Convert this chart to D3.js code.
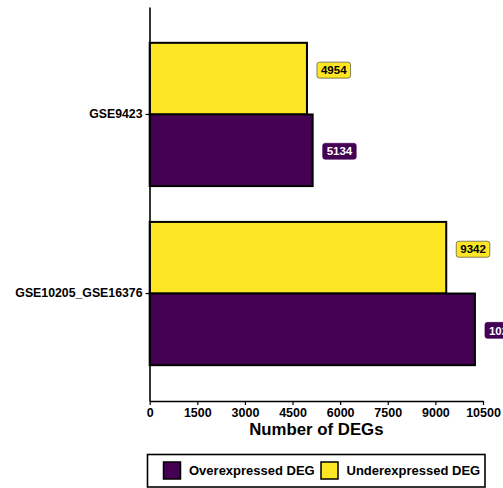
<!DOCTYPE html>
<html>
<head>
<meta charset="utf-8">
<script src="https://cdn.jsdelivr.net/npm/d3@7"></script>
<style>
  html, body { margin: 0; padding: 0; background: #fff; }
  svg { display: block; font-family: "Liberation Sans", Arial, sans-serif; }
</style>
</head>
<body>
<svg id="chart" width="503" height="488"></svg>
<script>
// Datasets (top to bottom) and DEG counts per direction
const datasets = ["GSE9423", "GSE10205_GSE16376"];
const series = ["Underexpressed DEG", "Overexpressed DEG"];
const legendOrder = ["Overexpressed DEG", "Underexpressed DEG"];
const overexpressed = [5134, 10246];
const underexpressed = [4954, 9342];
const xTicks = [0, 1500, 3000, 4500, 6000, 7500, 9000, 10500];

const colors = { "Overexpressed DEG": "#440154", "Underexpressed DEG": "#FDE725" };
const textColors = { "Overexpressed DEG": "#ffffff", "Underexpressed DEG": "#000000" };
const labelShift = { "Overexpressed DEG": 1, "Underexpressed DEG": -8.5 };

const rows = [];
datasets.forEach((d, i) => {
  rows.push({ dataset: d, series: "Underexpressed DEG", value: underexpressed[i] });
  rows.push({ dataset: d, series: "Overexpressed DEG", value: overexpressed[i] });
});

const svg = d3.select("#chart");
const panel = { left: 149.7, right: 483, top: 7, bottom: 401 };

const x = d3.scaleLinear().domain([0, 10500]).range([panel.left, panel.right]);
const y = d3.scaleBand().domain(datasets).range([panel.top, panel.bottom])
  .paddingInner(0.2).paddingOuter(0.2);
const ySub = d3.scaleBand().domain(series).range([0, y.bandwidth()]);

// Bars
svg.append("g").selectAll("rect").data(rows).join("rect")
  .attr("x", x(0))
  .attr("y", d => y(d.dataset) + ySub(d.series))
  .attr("width", d => x(d.value) - x(0))
  .attr("height", ySub.bandwidth())
  .attr("fill", d => colors[d.series])
  .attr("stroke", "#000")
  .attr("stroke-width", 2);

// Value labels
const fmt = d3.format("d");
const labels = svg.append("g").selectAll("g").data(rows).join("g")
  .attr("transform", d => `translate(${x(d.value) + 10},${y(d.dataset) + ySub(d.series) + ySub.bandwidth() / 2 + labelShift[d.series]})`);
labels.append("text")
  .attr("x", 4)
  .attr("dy", "0.36em")
  .attr("font-size", 11.5)
  .attr("font-weight", "bold")
  .attr("fill", d => textColors[d.series])
  .text(d => fmt(d.value));
labels.each(function (d) {
  const g = d3.select(this);
  const w = g.select("text").node().getComputedTextLength();
  g.insert("rect", "text")
    .attr("x", 0).attr("y", -8)
    .attr("width", w + 8).attr("height", 16)
    .attr("rx", 2.5).attr("ry", 2.5)
    .attr("fill", colors[d.series])
    .attr("stroke", d.series === "Underexpressed DEG" ? "#333" : colors[d.series])
    .attr("stroke-width", 0.6);
});

// X axis
const xAxis = svg.append("g")
  .attr("transform", `translate(0,${panel.bottom})`)
  .call(d3.axisBottom(x).tickValues(xTicks).tickFormat(d3.format("d")).tickSize(4).tickSizeOuter(0));
xAxis.select(".domain").attr("stroke", "#000").attr("stroke-width", 1.6);
xAxis.selectAll(".tick line").attr("stroke", "#000").attr("stroke-width", 1.2);
xAxis.selectAll(".tick text")
  .attr("font-family", "Liberation Sans, Arial, sans-serif")
  .attr("font-size", 12.5).attr("font-weight", "bold").attr("fill", "#000")
  .attr("y", 7).attr("dy", "0.71em");

// Y axis
const yAxis = svg.append("g")
  .attr("transform", `translate(${panel.left - 0.2},0)`)
  .call(d3.axisLeft(y).tickSize(4).tickSizeOuter(0));
yAxis.select(".domain").attr("stroke", "#000").attr("stroke-width", 1.6);
yAxis.selectAll(".tick line").attr("stroke", "#000").attr("stroke-width", 1.2);
yAxis.selectAll(".tick text")
  .attr("font-family", "Liberation Sans, Arial, sans-serif")
  .attr("font-size", 12.3).attr("font-weight", "bold").attr("fill", "#000")
  .attr("x", -7);

// X axis title
svg.append("text")
  .attr("x", (panel.left + panel.right) / 2)
  .attr("y", 435)
  .attr("text-anchor", "middle")
  .attr("font-size", 16.8)
  .attr("font-weight", "bold")
  .text("Number of DEGs");

// Legend
const legend = svg.append("g");
legend.append("rect")
  .attr("x", 147.5).attr("y", 454.5).attr("width", 337.5).attr("height", 32.5)
  .attr("fill", "#fff").attr("stroke", "#000").attr("stroke-width", 1.6);
const legendX = [163.5, 321];
const items = legend.selectAll("g.item").data(legendOrder).join("g")
  .attr("class", "item")
  .attr("transform", (d, i) => `translate(${legendX[i]},462)`);
items.append("rect")
  .attr("width", 17).attr("height", 17)
  .attr("fill", d => colors[d]).attr("stroke", "#000").attr("stroke-width", 1.5);
items.append("text")
  .attr("x", 25.5).attr("y", 8.5).attr("dy", "0.36em")
  .attr("font-size", 13).attr("font-weight", "bold")
  .text(d => d);
</script>
</body>
</html>
